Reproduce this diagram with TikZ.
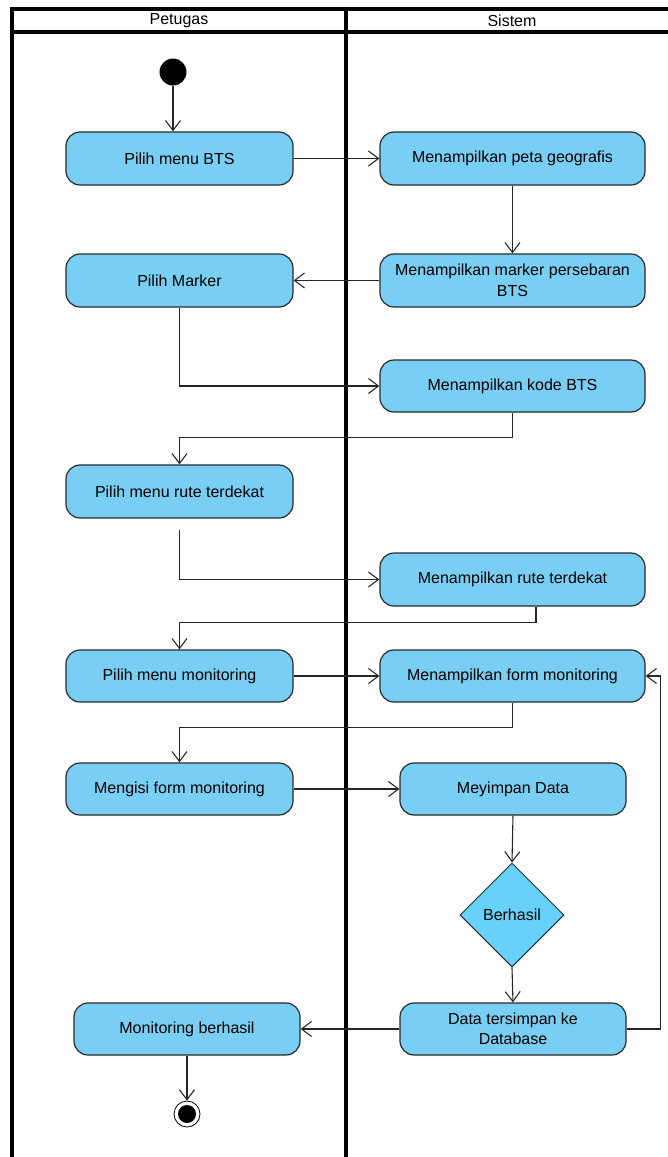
\documentclass[tikz,border=0pt]{standalone}
\usepackage{fontspec}
\setmainfont{Liberation Sans}
\usetikzlibrary{arrows.meta,shapes.geometric,calc}
\definecolor{boxfill}{HTML}{79CFF3}
\definecolor{diafill}{HTML}{66D2FA}
\definecolor{boxline}{HTML}{2A2A2A}
\tikzset{
  act/.style={draw=boxline,line width=1.2pt,fill=boxfill,rounded corners=14pt,
    minimum width=227pt,minimum height=53pt,align=center,inner sep=2pt,
    font=\fontsize{16}{20.5}\selectfont},
  dec/.style={draw=boxline,line width=1pt,fill=diafill,diamond,shape aspect=1,
    minimum width=104pt,minimum height=104pt,inner sep=0pt,
    font=\fontsize{16}{20}\selectfont},
  flow/.style={draw=black!85,line width=1.1pt,-{Straight Barb[length=10pt,width=15pt,line width=1.1pt]}},
  lane/.style={draw=black,line width=3.1pt},
  hdr/.style={font=\fontsize{16}{18}\selectfont}
}
\begin{document}
\begin{tikzpicture}[x=1pt,y=-1pt]
\useasboundingbox (0,0) rectangle (668,1157);
\clip (0,0) rectangle (668,1157);
% swimlanes
\draw[lane] (12,1170) -- (12,9) -- (690,9);
\draw[lane] (12,32) -- (690,32);
\draw[lane] (346,9) -- (346,1170);
\node[hdr] (h1) at (179,20.5) {Petugas};
\node[hdr] (h2) at (512,20.5) {Sistem};
% nodes
\node[circle,fill=black,minimum size=27pt,inner sep=0pt] (start) at (173,72) {};
\node[act] (a1) at (179.5,158.5) {Pilih menu BTS};
\node[act,minimum width=265pt] (b1) at (512.5,158.5) {Menampilkan peta geografis};
\node[act,minimum width=265pt] (b2) at (512.5,280.5) {Menampilkan marker persebaran\\BTS};
\node[act] (a2) at (179.5,280.5) {Pilih Marker};
\node[act,minimum width=265pt,minimum height=52pt] (b3) at (512.5,386) {Menampilkan kode BTS};
\node[act] (a3) at (179.5,491.5) {Pilih menu rute terdekat};
\node[act,minimum width=265pt] (b4) at (512.5,579.5) {Menampilkan rute terdekat};
\node[act,minimum height=52pt] (a4) at (179.5,676) {Pilih menu monitoring};
\node[act,minimum width=265pt,minimum height=52pt] (b5) at (512.5,676) {Menampilkan form monitoring};
\node[act,minimum height=52pt] (a5) at (179.5,789) {Mengisi form monitoring};
\node[act,minimum width=226pt,minimum height=52pt] (b6) at (513,789) {Meyimpan Data};
\node[dec] (d) at (512,915) {Berhasil};
\node[act,minimum width=226pt,minimum height=52pt] (b7) at (513,1029) {Data tersimpan ke\\Database};
\node[act,minimum width=226pt,minimum height=52pt] (a6) at (187,1029) {Monitoring berhasil};
\node[circle,draw=black,line width=0.8pt,fill=white,minimum size=26pt,inner sep=0pt] (end) at (187,1114) {};
\node[circle,fill=black,minimum size=18pt,inner sep=0pt] (endin) at (187,1114) {};
% connectors
\draw[flow] (start.south) -- (start.south |- a1.north);
\draw[flow] (a1.east) -- (b1.west);
\draw[flow] (b1.south) -- (b2.north);
\draw[flow] (b2.west) -- (a2.east);
\draw[flow] (a2.south) |- (b3.west);
\coordinate (b3k) at ($(b3.south)+(0,25)$);
\draw[flow] (b3.south) -- (b3k) -| (a3.north);
\coordinate (a3s) at ($(a3.south)+(0,11)$);
\draw[flow] (a3s) |- (b4.west);
\coordinate (b4s) at ($(b4.south)+(23.5,0)$);
\draw[flow] (b4s) -- ++(0,16) -| (a4.north);
\draw[flow] (a4.east) -- (b5.west);
\coordinate (b5k) at ($(b5.south)+(0,25)$);
\draw[flow] (b5.south) -- (b5k) -| (a5.north);
\draw[flow] (a5.east) -- (b6.west);
\draw[flow] (b6.south) -- (d.north);
\draw[flow] (d.south) -- (b7.north);
\coordinate (loop) at ($(b7.east)+(34,0)$);
\draw[flow] (b7.east) -- (loop) |- (b5.east);
\draw[flow] (b7.west) -- (a6.east);
\draw[flow] (a6.south) -- (end.north);
\end{tikzpicture}
\end{document}
